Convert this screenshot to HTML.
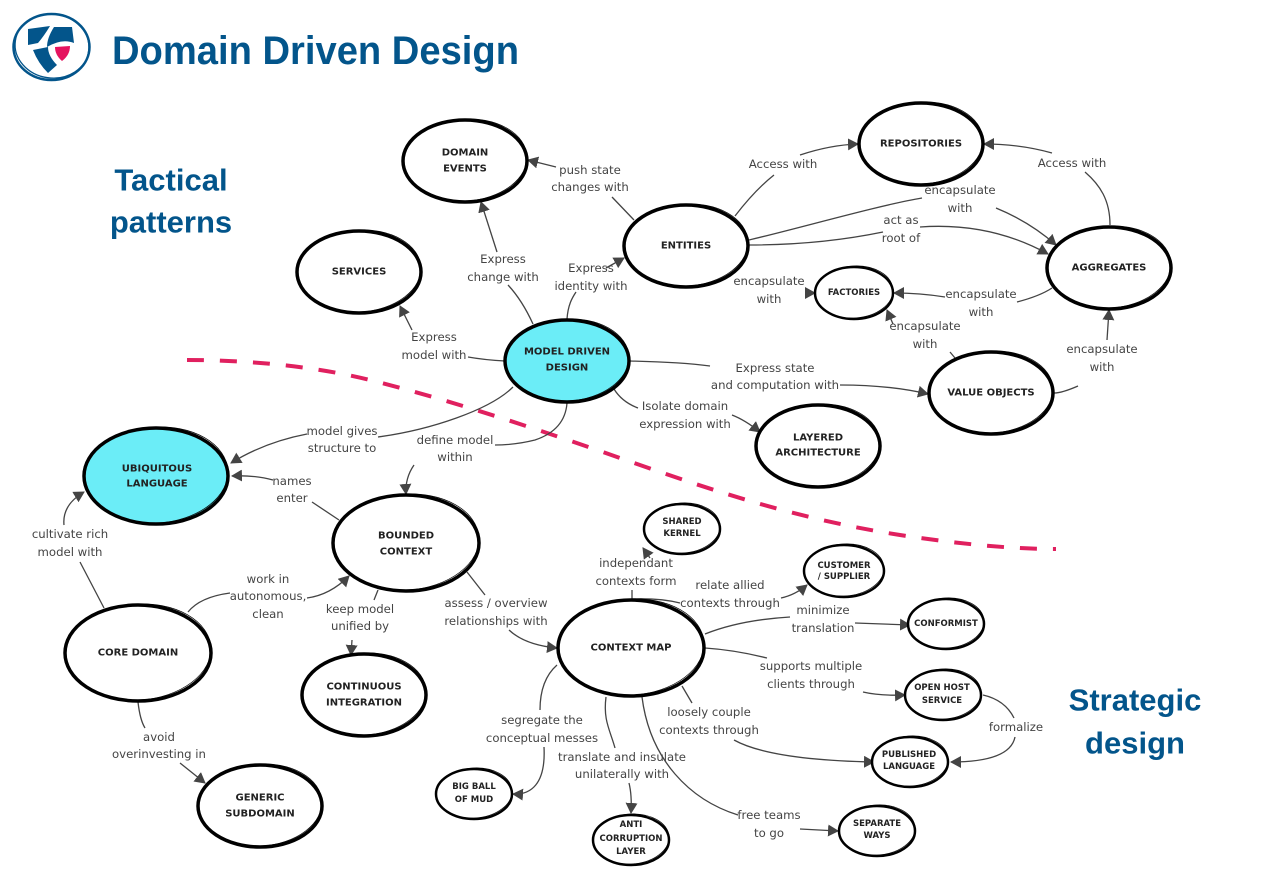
<!DOCTYPE html>
<html><head><meta charset="utf-8"><style>
html,body{margin:0;padding:0;background:#fff}
svg{display:block}
.l{font:11.7px "DejaVu Sans",sans-serif;fill:#444;text-anchor:middle;dominant-baseline:central}
.n{font:bold 10px "DejaVu Sans",sans-serif;fill:#222;text-anchor:middle;dominant-baseline:central}
.s{font:bold 8.5px "DejaVu Sans",sans-serif;fill:#222;text-anchor:middle;dominant-baseline:central}
.t{font:bold 31px "Liberation Sans",sans-serif;fill:#03558b;text-anchor:middle;dominant-baseline:central}
.e{fill:#fff;stroke:#000;stroke-width:3.5}
.es{fill:#fff;stroke:#000;stroke-width:2.5}
.x{fill:none;stroke:#000;stroke-width:.7}
.c{fill:none;stroke:#444;stroke-width:1.3}
.a{fill:none;stroke:#444;stroke-width:1.3;marker-end:url(#m)}
</style></head><body>
<svg width="1264" height="894" viewBox="0 0 1264 894" xmlns="http://www.w3.org/2000/svg">
<defs><marker id="m" markerUnits="userSpaceOnUse" markerWidth="13" markerHeight="13" refX="10" refY="6" orient="auto"><path d="M0 0L11 6L0 12Z" fill="#444"/></marker></defs>
<rect width="1264" height="894" fill="#fff"/>
<ellipse cx="51.5" cy="47" rx="38" ry="33" fill="none" stroke="#03558b" stroke-width="2.5"/>
<ellipse cx="52" cy="46" rx="37" ry="32" fill="none" stroke="#03558b" stroke-width="1.3" transform="rotate(8 52 46)"/>
<path d="M28 29L50 26Q44 36 38 43L28 45Z M54 27L72 27L74 43Q62 38 47 47Q47 38 54 27Z M33 50L48 47Q48 56 57 65L48 73Q38 63 33 50Z" fill="#03558b"/>
<path d="M55 47L70 46Q70 55 62 61Q55 55 55 47Z" fill="#e5135f"/>
<text x="112" y="64" textLength="407" lengthAdjust="spacingAndGlyphs" style="font:bold 40px 'Liberation Sans',sans-serif;fill:#03558b">Domain Driven Design</text>
<text class="t" x="171" y="180">Tactical</text><text class="t" x="171" y="222">patterns</text>
<text class="t" x="1135" y="700">Strategic</text><text class="t" x="1135" y="743">design</text>
<path d="M187 360C240 360 310 365 370 380C450 400 540 430 620 458C700 486 790 518 900 535C960 544 1010 549 1056 549" fill="none" stroke="#e0205f" stroke-width="4" stroke-dasharray="17 16"/>

<path class="c" d="M533 324Q522 300 508 285"/><path class="a" d="M497 252L481 202"/>
<path class="c" d="M567 319C568 305 572 298 576 292"/><path class="a" d="M606 268L624 258"/>
<path class="c" d="M505 361Q485 360 468 357"/><path class="a" d="M412 330L400 306"/>
<path class="c" d="M634 220L612 197"/><path class="a" d="M556 167L528 160"/>
<path class="c" d="M735 216Q755 190 774 175"/><path class="a" d="M800 155Q830 145 858 144"/>
<path class="c" d="M749 240C800 228 880 205 922 198"/><path class="a" d="M996 208Q1030 222 1056 245"/>
<path class="c" d="M749 245Q820 245 883 232"/><path class="a" d="M920 227Q990 222 1048 254"/>
<path class="a" d="M805 293L815 293"/>
<path class="c" d="M1110 225C1110 200 1100 185 1085 172"/><path class="a" d="M1052 153Q1020 144 984 144"/>
<path class="c" d="M1052 288Q1040 296 1017 302"/><path class="a" d="M945 297Q920 293 894 293"/>
<path class="c" d="M955 358L950 352"/><path class="a" d="M893 324L887 310"/>
<path class="c" d="M1054 393Q1062 393 1078 386"/><path class="a" d="M1107 340L1109 310"/>
<path class="c" d="M630 361Q680 362 710 366"/><path class="a" d="M840 385Q890 385 928 394"/>
<path class="c" d="M614 389Q622 402 638 408"/><path class="a" d="M732 415Q745 420 760 432"/>
<path class="c" d="M513 387C490 410 430 430 378 437"/><path class="a" d="M307 434Q265 442 231 463"/>
<path class="c" d="M567 403Q565 430 535 440Q515 445 495 445"/><path class="a" d="M414 465Q405 478 406 494"/>
<path class="c" d="M339 520L312 502"/><path class="a" d="M273 480Q255 475 232 476"/>
<path class="c" d="M104 608L80 562"/><path class="a" d="M64 525Q62 505 84 492"/>
<path class="c" d="M188 612Q200 597 230 593"/><path class="a" d="M307 598Q330 595 349 576"/>
<path class="c" d="M378 590L374 600"/><path class="a" d="M352 640L351 655"/>
<path class="c" d="M138 702Q140 720 145 728"/><path class="a" d="M180 763L205 783"/>
<path class="c" d="M467 572L485 595"/><path class="a" d="M509 630Q525 645 557 648"/>
<path class="c" d="M632 600L632 590"/><path class="a" d="M650 558L643 548"/>
<path class="c" d="M632 599Q660 598 680 603"/><path class="a" d="M781 598Q795 595 807 585"/>
<path class="c" d="M705 634Q740 620 790 617"/><path class="a" d="M855 623L910 625"/>
<path class="c" d="M705 648Q735 650 767 658"/><path class="a" d="M863 692Q880 696 905 695"/>
<path class="c" d="M682 686L692 703"/><path class="a" d="M734 740Q770 760 874 762"/>
<path class="c" d="M983 695Q1005 700 1014 718"/><path class="a" d="M1015 737Q1010 762 951 762"/>
<path class="c" d="M642 697C650 760 690 800 738 815"/><path class="a" d="M800 829L838 831"/>
<path class="c" d="M606 697C603 720 610 730 615 748"/><path class="a" d="M629 783Q632 795 631 813"/>
<path class="c" d="M557 665Q540 680 540 710"/><path class="a" d="M544 747C546 785 530 795 513 794"/>

<g>
<ellipse class="e" cx="465" cy="161" rx="62" ry="41"/><ellipse class="x" cx="465" cy="160" rx="62" ry="41" transform="rotate(-4 465 160)"/>
<ellipse class="e" cx="921" cy="144" rx="62" ry="41"/><ellipse class="x" cx="921" cy="143" rx="62" ry="41" transform="rotate(-4 921 143)"/>
<ellipse class="e" cx="686" cy="246" rx="62" ry="41"/><ellipse class="x" cx="686" cy="245" rx="62" ry="41" transform="rotate(-4 686 245)"/>
<ellipse class="e" cx="359" cy="272" rx="62" ry="41"/><ellipse class="x" cx="359" cy="271" rx="62" ry="41" transform="rotate(-4 359 271)"/>
<ellipse class="e" cx="1109" cy="268" rx="62" ry="41"/><ellipse class="x" cx="1109" cy="267" rx="62" ry="41" transform="rotate(-4 1109 267)"/>
<ellipse class="es" cx="854" cy="293" rx="39" ry="26"/><ellipse class="x" cx="854" cy="292" rx="39" ry="26" transform="rotate(-4 854 292)"/>
<ellipse class="e" cx="567" cy="361" rx="62" ry="41" style="fill:#6bedf7"/><ellipse class="x" cx="567" cy="360" rx="62" ry="41" transform="rotate(-4 567 360)"/>
<ellipse class="e" cx="991" cy="393" rx="62" ry="41"/><ellipse class="x" cx="991" cy="392" rx="62" ry="41" transform="rotate(-4 991 392)"/>
<ellipse class="e" cx="818" cy="446" rx="62" ry="41"/><ellipse class="x" cx="818" cy="445" rx="62" ry="41" transform="rotate(-4 818 445)"/>
<ellipse class="e" cx="156" cy="476" rx="72" ry="48" style="fill:#6bedf7"/><ellipse class="x" cx="156" cy="475" rx="72" ry="48" transform="rotate(-4 156 475)"/>
<ellipse class="e" cx="406" cy="543" rx="73" ry="48"/><ellipse class="x" cx="406" cy="542" rx="73" ry="48" transform="rotate(-4 406 542)"/>
<ellipse class="e" cx="138" cy="653" rx="73" ry="48"/><ellipse class="x" cx="138" cy="652" rx="73" ry="48" transform="rotate(-4 138 652)"/>
<ellipse class="e" cx="364" cy="695" rx="62" ry="41"/><ellipse class="x" cx="364" cy="694" rx="62" ry="41" transform="rotate(-4 364 694)"/>
<ellipse class="e" cx="260" cy="806" rx="62" ry="41"/><ellipse class="x" cx="260" cy="805" rx="62" ry="41" transform="rotate(-4 260 805)"/>
<ellipse class="e" cx="631" cy="648" rx="73" ry="48"/><ellipse class="x" cx="631" cy="647" rx="73" ry="48" transform="rotate(-4 631 647)"/>
<ellipse class="es" cx="682" cy="529" rx="38" ry="25"/><ellipse class="x" cx="682" cy="528" rx="38" ry="25" transform="rotate(-4 682 528)"/>
<ellipse class="es" cx="844" cy="571" rx="40" ry="26"/><ellipse class="x" cx="844" cy="570" rx="40" ry="26" transform="rotate(-4 844 570)"/>
<ellipse class="es" cx="946" cy="624" rx="38" ry="25"/><ellipse class="x" cx="946" cy="623" rx="38" ry="25" transform="rotate(-4 946 623)"/>
<ellipse class="es" cx="943" cy="695" rx="38" ry="25"/><ellipse class="x" cx="943" cy="694" rx="38" ry="25" transform="rotate(-4 943 694)"/>
<ellipse class="es" cx="910" cy="762" rx="38" ry="25"/><ellipse class="x" cx="910" cy="761" rx="38" ry="25" transform="rotate(-4 910 761)"/>
<ellipse class="es" cx="877" cy="831" rx="38" ry="25"/><ellipse class="x" cx="877" cy="830" rx="38" ry="25" transform="rotate(-4 877 830)"/>
<ellipse class="es" cx="474" cy="794" rx="38" ry="25"/><ellipse class="x" cx="474" cy="793" rx="38" ry="25" transform="rotate(-4 474 793)"/>
<ellipse class="es" cx="631" cy="840" rx="38" ry="25"/><ellipse class="x" cx="631" cy="839" rx="38" ry="25" transform="rotate(-4 631 839)"/>
</g>

<text class="n" x="465" y="153">DOMAIN</text><text class="n" x="465" y="169">EVENTS</text>
<text class="n" x="921" y="144">REPOSITORIES</text>
<text class="n" x="686" y="246">ENTITIES</text>
<text class="n" x="359" y="272">SERVICES</text>
<text class="n" x="1109" y="268">AGGREGATES</text>
<text class="s" x="854" y="293">FACTORIES</text>
<text class="n" x="567" y="352">MODEL DRIVEN</text><text class="n" x="567" y="368">DESIGN</text>
<text class="n" x="991" y="393">VALUE OBJECTS</text>
<text class="n" x="818" y="438">LAYERED</text><text class="n" x="818" y="453">ARCHITECTURE</text>
<text class="n" x="157" y="469">UBIQUITOUS</text><text class="n" x="157" y="484">LANGUAGE</text>
<text class="n" x="406" y="536">BOUNDED</text><text class="n" x="406" y="552">CONTEXT</text>
<text class="n" x="138" y="653">CORE DOMAIN</text>
<text class="n" x="364" y="687">CONTINUOUS</text><text class="n" x="364" y="703">INTEGRATION</text>
<text class="n" x="260" y="798">GENERIC</text><text class="n" x="260" y="814">SUBDOMAIN</text>
<text class="n" x="631" y="648">CONTEXT MAP</text>
<text class="s" x="682" y="522">SHARED</text><text class="s" x="682" y="534">KERNEL</text>
<text class="s" x="844" y="566">CUSTOMER</text><text class="s" x="844" y="577">/ SUPPLIER</text>
<text class="s" x="946" y="624">CONFORMIST</text>
<text class="s" x="942" y="688">OPEN HOST</text><text class="s" x="942" y="701">SERVICE</text>
<text class="s" x="909" y="755">PUBLISHED</text><text class="s" x="909" y="767">LANGUAGE</text>
<text class="s" x="877" y="824">SEPARATE</text><text class="s" x="877" y="836">WAYS</text>
<text class="s" x="474" y="787">BIG BALL</text><text class="s" x="474" y="800">OF MUD</text>
<text class="s" x="631" y="825">ANTI</text><text class="s" x="631" y="839">CORRUPTION</text><text class="s" x="631" y="852">LAYER</text>

<text class="l" x="503" y="259">Express</text><text class="l" x="503" y="277">change with</text>
<text class="l" x="591" y="268">Express</text><text class="l" x="591" y="286">identity with</text>
<text class="l" x="434" y="337">Express</text><text class="l" x="434" y="355">model with</text>
<text class="l" x="590" y="170">push state</text><text class="l" x="590" y="187">changes with</text>
<text class="l" x="783" y="164">Access with</text>
<text class="l" x="960" y="190">encapsulate</text><text class="l" x="960" y="208">with</text>
<text class="l" x="901" y="220">act as</text><text class="l" x="901" y="238">root of</text>
<text class="l" x="769" y="281">encapsulate</text><text class="l" x="769" y="299">with</text>
<text class="l" x="1072" y="163">Access with</text>
<text class="l" x="981" y="294">encapsulate</text><text class="l" x="981" y="312">with</text>
<text class="l" x="925" y="326">encapsulate</text><text class="l" x="925" y="344">with</text>
<text class="l" x="1102" y="349">encapsulate</text><text class="l" x="1102" y="367">with</text>
<text class="l" x="775" y="368">Express state</text><text class="l" x="775" y="385">and computation with</text>
<text class="l" x="685" y="406">Isolate domain</text><text class="l" x="685" y="424">expression with</text>
<text class="l" x="342" y="431">model gives</text><text class="l" x="342" y="448">structure to</text>
<text class="l" x="455" y="440">define model</text><text class="l" x="455" y="457">within</text>
<text class="l" x="292" y="481">names</text><text class="l" x="292" y="498">enter</text>
<text class="l" x="70" y="534">cultivate rich</text><text class="l" x="70" y="552">model with</text>
<text class="l" x="268" y="579">work in</text><text class="l" x="268" y="596">autonomous,</text><text class="l" x="268" y="614">clean</text>
<text class="l" x="360" y="609">keep model</text><text class="l" x="360" y="626">unified by</text>
<text class="l" x="159" y="737">avoid</text><text class="l" x="159" y="754">overinvesting in</text>
<text class="l" x="496" y="603">assess / overview</text><text class="l" x="496" y="621">relationships with</text>
<text class="l" x="636" y="563">independant</text><text class="l" x="636" y="581">contexts form</text>
<text class="l" x="730" y="585">relate allied</text><text class="l" x="730" y="603">contexts through</text>
<text class="l" x="823" y="610">minimize</text><text class="l" x="823" y="628">translation</text>
<text class="l" x="811" y="666">supports multiple</text><text class="l" x="811" y="684">clients through</text>
<text class="l" x="709" y="712">loosely couple</text><text class="l" x="709" y="730">contexts through</text>
<text class="l" x="1016" y="727">formalize</text>
<text class="l" x="769" y="815">free teams</text><text class="l" x="769" y="833">to go</text>
<text class="l" x="622" y="757">translate and insulate</text><text class="l" x="622" y="774">unilaterally with</text>
<text class="l" x="542" y="720">segregate the</text><text class="l" x="542" y="738">conceptual messes</text>
</svg>
</body></html>
